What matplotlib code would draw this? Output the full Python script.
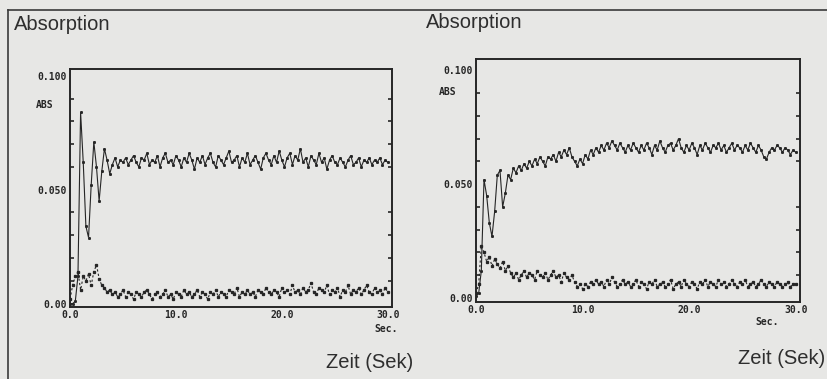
import numpy as np
import matplotlib
matplotlib.use("Agg")
import matplotlib.pyplot as plt
from matplotlib.lines import Line2D
from matplotlib.ticker import MultipleLocator

# ---------------- data ----------------
time_s = np.round(np.arange(0, 30.01, 0.25), 2)  # sampling grid, 0.25 s

left_signal = [
    0.000, 0.000, 0.001, 0.012, 0.084, 0.062, 0.034, 0.029, 0.052, 0.071,
    0.060, 0.045, 0.058, 0.068, 0.063, 0.057, 0.061, 0.064, 0.060, 0.063,
    0.062,
    0.064, 0.061, 0.063, 0.065, 0.062, 0.060, 0.064, 0.063, 0.066, 0.061,
    0.063, 0.062, 0.065, 0.060, 0.064, 0.066, 0.062, 0.063, 0.061, 0.065,
    0.063, 0.060, 0.064, 0.062, 0.066, 0.063, 0.059, 0.064, 0.062, 0.065,
    0.061, 0.064, 0.066, 0.062, 0.060, 0.065, 0.063, 0.061, 0.064, 0.067,
    0.062, 0.063, 0.065, 0.060, 0.064, 0.062, 0.066, 0.061, 0.063, 0.065,
    0.062, 0.059, 0.064, 0.066, 0.063, 0.061, 0.065, 0.062, 0.067, 0.063,
    0.060, 0.064, 0.066, 0.061, 0.065, 0.063, 0.068, 0.062, 0.064, 0.060,
    0.065, 0.063, 0.061, 0.066, 0.062, 0.064, 0.059, 0.063, 0.065, 0.062,
    0.061, 0.064, 0.062, 0.060, 0.063, 0.065, 0.061, 0.062, 0.064, 0.060,
    0.063, 0.062, 0.064, 0.061, 0.063, 0.062, 0.064, 0.061, 0.063, 0.062,
]

left_background = [
    0.002, 0.008, 0.012, 0.014, 0.006, 0.012, 0.010, 0.013, 0.008, 0.014,
    0.017, 0.011, 0.008, 0.007, 0.005, 0.006, 0.004,
    0.005, 0.003, 0.004, 0.006, 0.003, 0.005, 0.004, 0.002, 0.005, 0.004,
    0.003, 0.005, 0.006, 0.004, 0.002, 0.004, 0.005, 0.003, 0.004, 0.006,
    0.003, 0.004, 0.002, 0.005, 0.004, 0.003, 0.006, 0.004, 0.005, 0.003,
    0.004, 0.006, 0.003, 0.005, 0.004, 0.002, 0.005, 0.004, 0.006, 0.003,
    0.005, 0.004, 0.003, 0.006, 0.005, 0.004, 0.007, 0.003, 0.005, 0.004,
    0.006, 0.004, 0.005, 0.003, 0.006, 0.005, 0.004, 0.007, 0.005, 0.004,
    0.006, 0.005, 0.003, 0.007, 0.005, 0.006, 0.004, 0.008, 0.005, 0.006,
    0.004, 0.007, 0.005, 0.006, 0.009, 0.005, 0.004, 0.007, 0.006, 0.005,
    0.008, 0.004, 0.006, 0.005, 0.007, 0.003, 0.006, 0.005, 0.008, 0.004,
    0.006, 0.005, 0.007, 0.004, 0.006, 0.008, 0.005, 0.004, 0.007, 0.005,
    0.006, 0.004, 0.007, 0.005,
]

right_signal = [
    0.001, 0.002, 0.012, 0.052, 0.045, 0.033, 0.027, 0.038, 0.054, 0.056,
    0.040, 0.046, 0.054, 0.052, 0.057, 0.055, 0.058, 0.056, 0.059, 0.057,
    0.060,
    0.058, 0.061, 0.059, 0.062, 0.060, 0.058, 0.062, 0.061, 0.063, 0.060,
    0.064, 0.062, 0.065, 0.063, 0.066, 0.062, 0.060, 0.058, 0.061, 0.059,
    0.063, 0.061, 0.065, 0.063, 0.066, 0.064, 0.067, 0.065, 0.068, 0.066,
    0.069, 0.067, 0.065, 0.068, 0.066, 0.064, 0.067, 0.065, 0.068, 0.066,
    0.064, 0.067, 0.065, 0.068, 0.066, 0.063, 0.067, 0.065, 0.069, 0.066,
    0.064, 0.067, 0.068, 0.065, 0.067, 0.070, 0.066, 0.064, 0.067, 0.065,
    0.068, 0.066, 0.063, 0.067, 0.065, 0.068, 0.066, 0.064, 0.067, 0.066,
    0.068, 0.065, 0.067, 0.064, 0.066, 0.068, 0.065, 0.067, 0.066, 0.064,
    0.067, 0.065, 0.068, 0.066, 0.064, 0.067, 0.065, 0.062, 0.061, 0.064,
    0.066, 0.065, 0.067, 0.066, 0.064, 0.066, 0.065, 0.063, 0.065, 0.064,
]

right_background = [
    0.002, 0.006, 0.023, 0.020, 0.016, 0.018, 0.014, 0.017, 0.015, 0.013,
    0.016, 0.012, 0.014, 0.011, 0.009,
    0.011, 0.008, 0.010, 0.012, 0.009, 0.011, 0.010, 0.008, 0.012, 0.010,
    0.009, 0.011, 0.008, 0.010, 0.012, 0.009, 0.010, 0.007, 0.011, 0.009,
    0.008, 0.010,
    0.007, 0.005, 0.006, 0.004, 0.006, 0.005, 0.007, 0.006,
    0.008, 0.006, 0.007, 0.005, 0.008, 0.006, 0.009, 0.007, 0.005, 0.006,
    0.008, 0.006, 0.007, 0.005, 0.006, 0.008, 0.005, 0.007, 0.006, 0.004,
    0.007, 0.006, 0.008, 0.005, 0.006, 0.007, 0.005, 0.006, 0.008, 0.004,
    0.006, 0.007, 0.005, 0.008, 0.006, 0.005, 0.007, 0.006, 0.004, 0.007,
    0.006, 0.008, 0.005, 0.007, 0.006, 0.005, 0.008, 0.006, 0.007, 0.005,
    0.006, 0.008, 0.006, 0.005, 0.007, 0.006, 0.008, 0.005, 0.006, 0.007,
    0.005, 0.006, 0.008, 0.006, 0.005, 0.007, 0.006, 0.005, 0.007, 0.006,
    0.005, 0.006, 0.007, 0.005, 0.006, 0.006,
]

x_ticks = [0, 10, 20, 30]
x_ticklabels = ["0.0", "10.0", "20.0", "30.0"]
y_ticks = [0.0, 0.05, 0.10]
y_ticklabels = ["0.00", "0.050", "0.100"]
panel_title = "Absorption"
time_label = "Zeit (Sek)"
abs_unit = "ABS"
sec_unit = "Sec."

# ---------------- styling ----------------
BG = "#e7e7e5"
INK = "#262626"
mono = {"family": "DejaVu Sans Mono", "weight": "bold", "size": 7}

W, H = 828, 379
fig = plt.figure(figsize=(W / 100, H / 100), dpi=100, facecolor=BG)


def px_axes(x0, y0, x1, y1):
    return fig.add_axes([x0 / W, 1 - y1 / H, (x1 - x0) / W, (y1 - y0) / H])


def draw_panel(ax, sig, bg, ylim):
    ax.set_facecolor(BG)
    ax.plot(time_s, sig, color=INK, lw=0.8, solid_joinstyle="miter")
    ax.plot(time_s, sig, ls="none", marker="s", ms=1.1, color=INK)
    ax.plot(time_s, bg, ls=(0, (2, 2)), lw=0.8, color=INK)
    ax.plot(time_s, bg, ls="none", marker="s", ms=1.4, color=INK)
    ax.set_xlim(0, 30.4)
    ax.set_ylim(*ylim)
    ax.set_xticks(x_ticks)
    ax.set_xticklabels(x_ticklabels, fontdict=mono, color=INK)
    ax.set_yticks(y_ticks)
    ax.set_yticklabels(y_ticklabels, fontdict=mono, color=INK)
    ax.yaxis.set_minor_locator(MultipleLocator(0.01))
    ax.xaxis.set_minor_locator(MultipleLocator(10))
    ax.tick_params(axis="both", which="both", direction="in", color=INK,
                   left=True, right=True, top=True, bottom=True)
    ax.tick_params(axis="both", which="major", length=0, pad=2)
    ax.tick_params(axis="y", which="minor", length=3, width=1.2)
    ax.tick_params(axis="x", which="minor", length=3, width=1.2)
    for s in ax.spines.values():
        s.set_color(INK)
        s.set_linewidth(1.4)


axL = px_axes(70, 69, 392, 307)
draw_panel(axL, left_signal, left_background, (-0.0015, 0.103))
axR = px_axes(476, 59, 800, 302)
draw_panel(axR, right_signal, right_background, (-0.0018, 0.105))

# frame of the scanned page
fig.add_artist(Line2D([8 / W, 1.0], [1 - 10 / H, 1 - 10 / H], color="#3a3a3a", lw=1.2))
fig.add_artist(Line2D([8 / W, 8 / W], [0, 1 - 10 / H], color="#3a3a3a", lw=1.2))

sans = ["Liberation Sans", "DejaVu Sans"]
for x, y in [(14, 24), (426, 22)]:
    fig.text(x / W, 1 - y / H, panel_title, family=sans, size=14.5,
             color="#2e2e2e", va="center", ha="left")
for x, y in [(413, 362), (825, 358)]:
    fig.text(x / W, 1 - y / H, time_label, family=sans, size=14.5,
             color="#2e2e2e", va="center", ha="right")
for x, y in [(45, 105), (448, 92)]:
    fig.text(x / W, 1 - y / H, abs_unit, fontdict=mono, color=INK,
             va="center", ha="center")
for x, y in [(386, 329), (767, 322)]:
    fig.text(x / W, 1 - y / H, sec_unit, fontdict=mono, color=INK,
             va="center", ha="center")

fig.savefig("out.png", dpi=100, facecolor=BG)
